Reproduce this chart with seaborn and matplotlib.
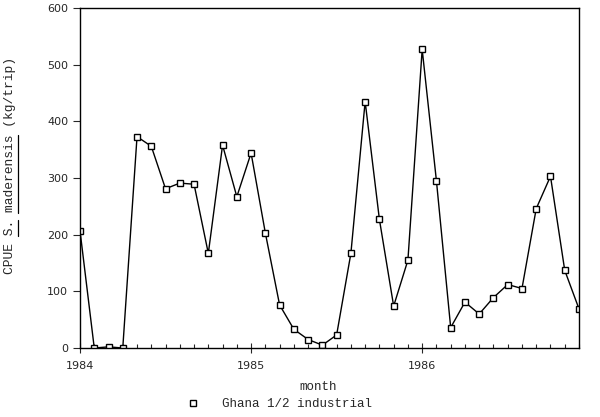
import matplotlib
matplotlib.use("Agg")
import matplotlib.pyplot as plt
from matplotlib.lines import Line2D
from matplotlib.ticker import MultipleLocator
import seaborn as sns
import pandas as pd

month_index = list(range(36))
cpue = [207, 0, 2, 0, 373, 356, 281, 291, 289, 167, 358, 267,
        344, 203, 76, 33, 15, 5, 23, 167, 435, 227, 74, 155,
        527, 295, 36, 81, 60, 89, 112, 105, 246, 303, 137, 69]
year_ticks = [0, 12, 24]
year_labels = ["1984", "1985", "1986"]
series_label = "Ghana 1/2 industrial"
ylabel_text = "CPUE S. maderensis (kg/trip)"

df = pd.DataFrame({"month": month_index, "cpue": cpue})

sns.set_style("ticks")

W, H = 600, 417
fig = plt.figure(figsize=(W/100, H/100), dpi=100)
ax = fig.add_axes([80/W, 1-348/H, (579-80)/W, (348-8)/H])

sns.lineplot(data=df, x="month", y="cpue", ax=ax, color="black", linewidth=1.0,
             marker="s", markersize=5, markerfacecolor="white",
             markeredgecolor="black", markeredgewidth=1.0)

ax.set_xlim(0, 35)
ax.set_ylim(0, 600)
ax.set_xticks(year_ticks)
ax.set_xticklabels(year_labels)
ax.xaxis.set_minor_locator(MultipleLocator(1))
ax.yaxis.set_major_locator(MultipleLocator(100))
ax.tick_params(axis="x", which="major", direction="inout", length=7, width=0.8,
               labelsize=8, pad=6)
ax.tick_params(axis="x", which="minor", direction="in", length=3, width=0.8)
ax.tick_params(axis="y", which="major", direction="out", length=5, width=0.8,
               labelsize=8)
for s in ax.spines.values():
    s.set_visible(True)
    s.set_linewidth(1.0)
    s.set_color("black")

ax.set_xlabel("")
ax.set_ylabel("")
fig.text(318/W, 1-387/H, "month", ha="center", va="center",
         family="Liberation Mono", fontsize=9)

# y label as figure text, with manual underlines
ylab = fig.text(10/W, 1-166/H, ylabel_text, rotation=90, ha="center", va="center",
                family="Liberation Mono", fontsize=9.4)
fig.canvas.draw()
bb = ylab.get_window_extent()
n = len(ylabel_text)
ch = (bb.y1 - bb.y0) / n
ux = (bb.x1 + 2) / W
for start, stop in [(5, 7), (8, 18)]:
    y0 = (bb.y0 + start * ch) / H
    y1 = (bb.y0 + stop * ch) / H
    fig.add_artist(Line2D([ux, ux], [y0, y1], transform=fig.transFigure,
                          color="black", linewidth=0.9))

handle = Line2D([], [], linestyle="none", marker="s", markersize=5,
                markerfacecolor="white", markeredgecolor="black")
fig.legend([handle], [series_label], loc="center", bbox_to_anchor=(0.46, 1-404/H),
           frameon=False, prop={"family": "Liberation Mono", "size": 9},
           handletextpad=1.3, borderpad=0)

fig.savefig("out.png", dpi=100)
